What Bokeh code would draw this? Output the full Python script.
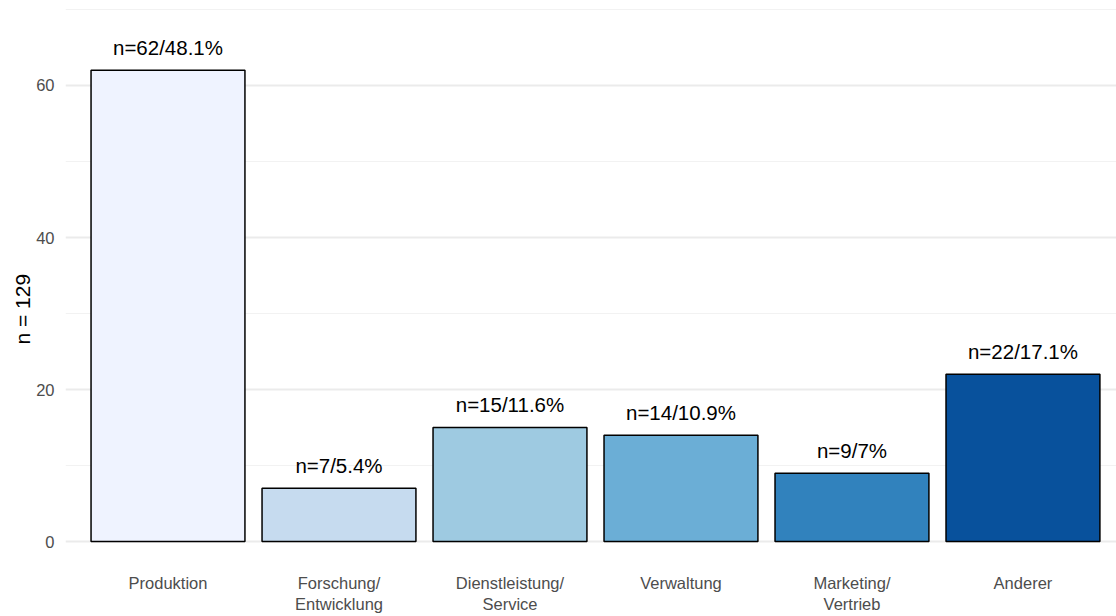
from bokeh.plotting import figure
from bokeh.models import ColumnDataSource, Range1d, FixedTicker, Title
from bokeh.transform import dodge
from bokeh.core.properties import value
from bokeh.embed import file_html
from bokeh.resources import INLINE

categories = ["Produktion", "Forschung/\nEntwicklung", "Dienstleistung/\nService",
              "Verwaltung", "Marketing/\nVertrieb", "Anderer"]
counts = [62, 7, 15, 14, 9, 22]
labels = ["n=62/48.1%", "n=7/5.4%", "n=15/11.6%", "n=14/10.9%", "n=9/7%", "n=22/17.1%"]
colors = ["#eff3ff", "#c6dbef", "#9ecae1", "#6baed6", "#3182bd", "#08519c"]
y_major = [0, 20, 40, 60]
y_minor = [10, 30, 50, 70]

pos = list(range(1, len(categories) + 1))
src = ColumnDataSource(dict(x=pos, top=counts, lab=labels, color=colors))

p = figure(width=1116, height=616, output_backend="svg", toolbar_location=None,
           x_range=Range1d(0.4006, 6.547), y_range=Range1d(-3.41, 71.18),
           min_border_left=65, min_border_right=0, min_border_top=0, min_border_bottom=48)
p.outline_line_color = None
p.background_fill_color = "white"
p.border_fill_color = "white"

p.vbar(x="x", top="top", bottom=0, width=0.9, source=src, fill_color="color",
       line_color="black", line_width=1.5)
p.text(x="x", y=dodge("top", 3.0, range=p.y_range), text="lab", source=src,
       text_align="center", text_baseline="alphabetic",
       text_font=value("Liberation Sans"), text_font_size="20.5px", text_color="black")

# axes
p.xaxis.ticker = FixedTicker(ticks=pos)
p.xaxis.major_label_overrides = {i: c for i, c in zip(pos, categories)}
p.yaxis.ticker = FixedTicker(ticks=y_major, minor_ticks=y_minor)
for ax in (p.xaxis, p.yaxis):
    ax.axis_line_color = None
    ax.major_tick_line_color = None
    ax.minor_tick_line_color = None
    ax.major_label_text_font = "Liberation Sans"
    ax.major_label_text_color = "#4d4d4d"
    ax.major_label_text_font_size = "16.5px"
p.xaxis.major_label_standoff = 0
p.yaxis.major_label_standoff = 5

ytitle = Title(text="n = 129", align="left", offset=223, text_font="Liberation Sans",
               text_font_style="normal", text_font_size="21px", text_color="black",
               standoff=0)
p.add_layout(ytitle, "left")

p.xgrid.grid_line_color = None
p.ygrid.grid_line_color = "#ebebeb"
p.ygrid.grid_line_width = 2
p.ygrid.minor_grid_line_color = "#f2f2f2"
p.ygrid.minor_grid_line_width = 1.2

open("out.html", "w").write(file_html(p, INLINE))
